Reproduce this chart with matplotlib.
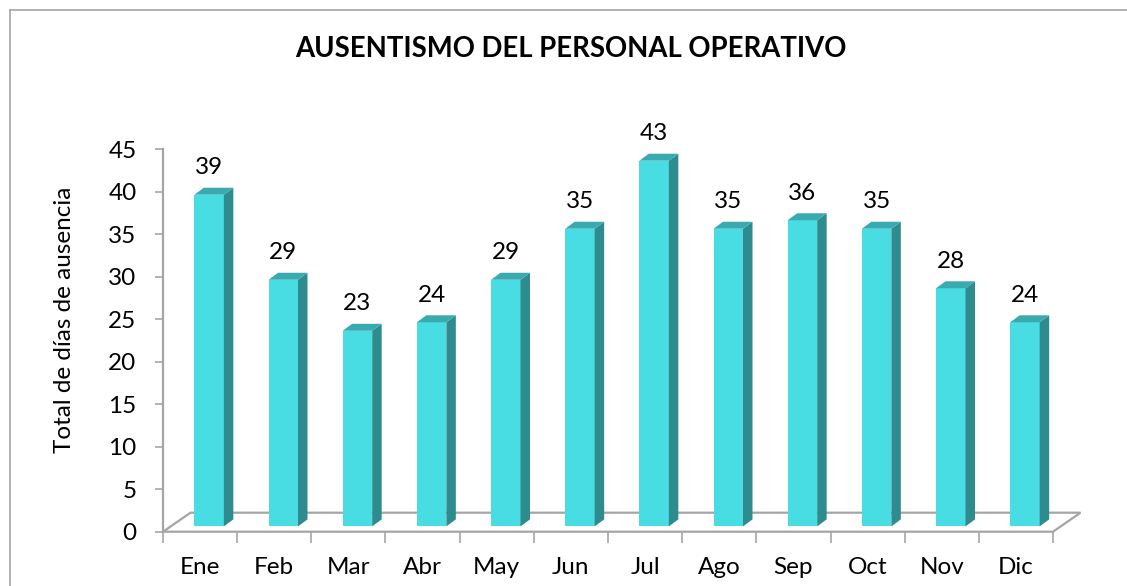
import matplotlib
matplotlib.use("Agg")
import matplotlib.pyplot as plt
from matplotlib.patches import Polygon, Rectangle
from matplotlib.lines import Line2D

months = ["Ene", "Feb", "Mar", "Abr", "May", "Jun", "Jul", "Ago", "Sep", "Oct", "Nov", "Dic"]
values = [39, 29, 23, 24, 29, 35, 43, 35, 36, 35, 28, 24]
yticks = [0, 5, 10, 15, 20, 25, 30, 35, 40, 45]
title = "AUSENTISMO DEL PERSONAL OPERATIVO"
ylabel = "Total de días de ausencia"

plt.rcParams['font.family'] = ['Lato', 'DejaVu Sans']

W, H = 1127, 586
fig = plt.figure(figsize=(W / 100, H / 100), dpi=100)
ax_l, ax_r = 163, 1053
ax_top, ax_bot = 149, 531.7
ax = fig.add_axes([ax_l / W, (H - ax_bot) / H, (ax_r - ax_l) / W, (ax_bot - ax_top) / H])
n = len(months)
ax.set_xlim(-0.5, n - 0.5)
ax.set_ylim(0, 45)

pxx = n / (ax_r - ax_l)
pxy = 45 / (ax_bot - ax_top)

gray = '#a5a5a5'
front_c = '#48dde3'
side_c = '#2e8c8f'
top_c = '#39abb0'
fs = 17.5

# floor
fdx, fdy = 27.5 * pxx, 19 * pxy
floor = Polygon([(-0.5, 0), (-0.5 + fdx, fdy), (n - 0.5 + fdx, fdy), (n - 0.5, 0)],
                closed=True, facecolor='white', edgecolor=gray, lw=1.6, clip_on=False, zorder=1)
ax.add_patch(floor)

# bars
bw = 29.5 * pxx
bdx, bdy = 9.5 * pxx, 7 * pxy
xoff = 9 * pxx
y0 = 5.3 * pxy
for i, v in enumerate(values):
    xc = i + xoff
    xl, xr = xc - bw / 2, xc + bw / 2
    ax.add_patch(Rectangle((xl, y0), bw, v, facecolor=front_c, edgecolor='none', clip_on=False, zorder=3))
    ax.add_patch(Polygon([(xr, y0), (xr + bdx, y0 + bdy), (xr + bdx, y0 + v + bdy), (xr, y0 + v)],
                         closed=True, facecolor=side_c, edgecolor='none', clip_on=False, zorder=3))
    ax.add_patch(Polygon([(xl, y0 + v), (xl + bdx, y0 + v + bdy), (xr + bdx, y0 + v + bdy), (xr, y0 + v)],
                         closed=True, facecolor=top_c, edgecolor='none', clip_on=False, zorder=3))
    ax.annotate(str(v), (xc, y0 + v), xytext=(0, 27), textcoords='offset pixels',
                ha='center', va='center', fontsize=fs, color='black', zorder=4)

# axes styling
for s in ['top', 'right', 'bottom']:
    ax.spines[s].set_visible(False)
ax.spines['left'].set_color(gray)
ax.spines['left'].set_linewidth(1.6)
ax.set_yticks(yticks)
ax.set_yticklabels([str(t) for t in yticks])
ax.tick_params(axis='y', length=6, width=1.2, color=gray, pad=13, labelsize=fs)
ax.set_xticks([i - 0.5 for i in range(n + 1)])
ax.set_xticklabels([])
ax.tick_params(axis='x', which='major', length=8, width=1.2, color=gray)
ax.set_xticks(list(range(n)), minor=True)
ax.set_xticklabels(months, minor=True)
ax.tick_params(axis='x', which='minor', length=0, pad=18, labelsize=fs)
ax.set_ylabel(ylabel, fontsize=fs, va='center')
ax.yaxis.set_label_coords((65 - ax_l) / (ax_r - ax_l), (ax_bot - 320) / (ax_bot - ax_top))
ax.patch.set_alpha(0)

fig.text(571 / W, 1 - 49 / H, title, ha='center', va='center', fontsize=19.8, fontweight='bold')

# chart area frame
fig.add_artist(Line2D([10 / W, 1], [1 - 10 / H, 1 - 10 / H], transform=fig.transFigure, color=gray, lw=1.2))
fig.add_artist(Line2D([10 / W, 10 / W], [1 - 10 / H, 0], transform=fig.transFigure, color=gray, lw=1.2))

fig.savefig("out.png", dpi=100)
